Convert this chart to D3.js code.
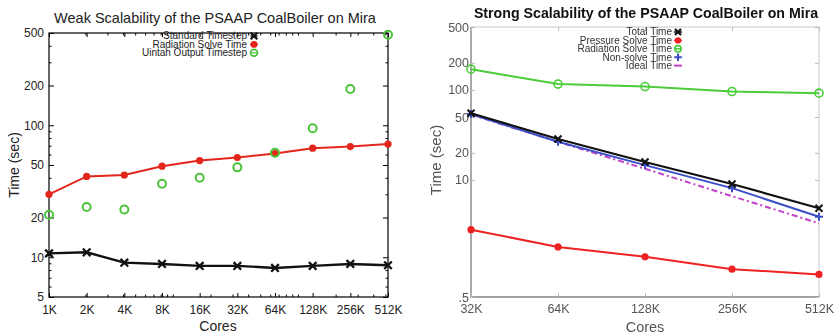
<!DOCTYPE html>
<html>
<head>
<meta charset="utf-8">
<script src="https://cdn.jsdelivr.net/npm/d3@7"></script>
<style>
  html, body { margin: 0; padding: 0; background: #fff; }
  svg { display: block; font-family: "Liberation Sans", Arial, sans-serif; }
</style>
</head>
<body>
<svg id="chart" width="837" height="336"></svg>
<script>
// weak scaling (left), cores in units of 1024
const weakCores = [1, 2, 4, 8, 16, 32, 64, 128, 256, 512]
const weakLabels = ['1K', '2K', '4K', '8K', '16K', '32K', '64K', '128K', '256K', '512K']
const standardTimestep = [10.7, 10.9, 9.1, 8.9, 8.6, 8.6, 8.3, 8.6, 8.9, 8.7]
const radiationWeak = [30, 41, 42, 49, 54, 57, 61, 67, 69, 72]
const uintahOutput = [21, 24, 23, 36, 40, 48, 62, 95, 188, 485]
const weakYTicks = [5, 10, 20, 50, 100, 200, 500]
const weakYMinor = [6, 7, 8, 9, 30, 40, 60, 70, 80, 90, 300, 400]
// minor x ticks sit at round decimal core counts
const weakXMinor = [2000, 3000, 4000, 5000, 6000, 7000, 8000, 9000,
  10000, 20000, 30000, 40000, 50000, 60000, 70000, 80000, 90000,
  100000, 200000, 300000, 400000, 500000]

// strong scaling (right)
const strongCores = [32, 64, 128, 256, 512]
const strongLabels = ['32K', '64K', '128K', '256K', '512K']
const totalTime = [55, 28.5, 15.8, 9.0, 4.85]
const pressureSolve = [2.8, 1.8, 1.4, 1.02, 0.89]
const radiationStrong = [170, 116, 109, 96, 92]
const nonSolve = [54, 26.5, 14.6, 8.1, 3.9]
const idealTime = [53, 26.5, 13.3, 6.6, 3.3]
const strongYTicks = [0.5, 10, 20, 50, 100, 200, 500]
const strongYLabels = ['.5', '10', '20', '50', '100', '200', '500']

const svg = d3.select('#chart')

const crossPath = s => `M${-s},${-s}L${s},${s}M${-s},${s}L${s},${-s}`
const plusPath = s => `M${-s},0L${s},0M0,${-s}L0,${s}`

function drawWeak() {
  const m = {left: 49, right: 388, top: 33, bottom: 297}
  const x = d3.scaleLog().base(2).domain([1, 512]).range([m.left, m.right])
  const y = d3.scaleLog().domain([5, 500]).range([m.bottom, m.top])
  const g = svg.append('g')

  g.append('text')
    .attr('x', 215).attr('y', 23)
    .attr('text-anchor', 'middle')
    .attr('font-size', 14.5).attr('fill', '#222')
    .text('Weak Scalability of the PSAAP CoalBoiler on Mira')

  // frame
  g.append('rect')
    .attr('x', m.left).attr('y', m.top)
    .attr('width', m.right - m.left).attr('height', m.bottom - m.top)
    .attr('fill', 'none').attr('stroke', '#000').attr('stroke-width', 1.2)

  const minorX = weakXMinor.map(v => v / 1024)

  g.append('g')
    .attr('transform', `translate(0,${m.bottom})`)
    .call(d3.axisBottom(x).tickValues(weakCores)
      .tickFormat((d, i) => weakLabels[i]).tickSize(-4).tickPadding(8))
    .call(a => a.select('.domain').remove())
  g.append('g')
    .attr('transform', `translate(0,${m.bottom})`)
    .call(d3.axisBottom(x).tickValues(minorX).tickFormat('').tickSize(-2.5))
    .call(a => a.select('.domain').remove())

  g.append('g')
    .attr('transform', `translate(0,${m.top})`)
    .call(d3.axisTop(x).tickValues(weakCores).tickFormat('').tickSize(-4))
    .call(a => a.select('.domain').remove())
  g.append('g')
    .attr('transform', `translate(0,${m.top})`)
    .call(d3.axisTop(x).tickValues(minorX).tickFormat('').tickSize(-2.5))
    .call(a => a.select('.domain').remove())

  g.append('g')
    .attr('transform', `translate(${m.left},0)`)
    .call(d3.axisLeft(y).tickValues(weakYTicks).tickFormat(d3.format('d'))
      .tickSize(-5).tickPadding(5))
    .call(a => a.select('.domain').remove())
  g.append('g')
    .attr('transform', `translate(${m.left},0)`)
    .call(d3.axisLeft(y).tickValues(weakYMinor).tickFormat('').tickSize(-2.5))
    .call(a => a.select('.domain').remove())
  g.append('g')
    .attr('transform', `translate(${m.right},0)`)
    .call(d3.axisRight(y).tickValues(weakYTicks).tickFormat('').tickSize(-5))
    .call(a => a.select('.domain').remove())
  g.append('g')
    .attr('transform', `translate(${m.right},0)`)
    .call(d3.axisRight(y).tickValues(weakYMinor).tickFormat('').tickSize(-2.5))
    .call(a => a.select('.domain').remove())

  g.selectAll('.tick text').attr('font-size', 12).attr('fill', '#222')
    .attr('font-family', '"Liberation Sans", Arial, sans-serif')
  g.selectAll('.tick line').attr('stroke', '#000')

  g.append('text')
    .attr('x', 218).attr('y', 331)
    .attr('text-anchor', 'middle').attr('font-size', 14).attr('fill', '#222')
    .text('Cores')
  g.append('text')
    .attr('transform', 'translate(19,165) rotate(-90)')
    .attr('text-anchor', 'middle').attr('font-size', 14).attr('fill', '#222')
    .text('Time (sec)')

  const line = d3.line().x((d, i) => x(weakCores[i])).y(d => y(d))

  g.append('path').datum(radiationWeak)
    .attr('d', line).attr('fill', 'none')
    .attr('stroke', '#e3261b').attr('stroke-width', 2)
  g.selectAll('.rad').data(radiationWeak).join('circle')
    .attr('cx', (d, i) => x(weakCores[i])).attr('cy', d => y(d))
    .attr('r', 3.6).attr('fill', '#e3261b')

  g.append('path').datum(standardTimestep)
    .attr('d', line).attr('fill', 'none')
    .attr('stroke', '#111').attr('stroke-width', 2.4)
  g.selectAll('.std').data(standardTimestep).join('path')
    .attr('transform', (d, i) => `translate(${x(weakCores[i])},${y(d)})`)
    .attr('d', crossPath(3.8)).attr('stroke', '#111').attr('stroke-width', 2.3)

  g.selectAll('.uout').data(uintahOutput).join('circle')
    .attr('cx', (d, i) => x(weakCores[i])).attr('cy', d => y(d))
    .attr('r', 4).attr('fill', 'none')
    .attr('stroke', '#4cc23a').attr('stroke-width', 2)

  // legend
  const leg = [
    {name: 'Standard Timestep', type: 'cross', color: '#111'},
    {name: 'Radiation Solve Time', type: 'dot', color: '#e3261b'},
    {name: 'Uintah Output Timestep', type: 'ring', color: '#4cc23a'}
  ]
  const lg = g.append('g')
  leg.forEach((l, i) => {
    const ly = 36 + i * 8.4
    lg.append('text').attr('x', 247).attr('y', ly + 3.3)
      .attr('text-anchor', 'end').attr('font-size', 10).attr('fill', '#222')
      .text(l.name)
    const s = lg.append('g').attr('transform', `translate(254,${ly})`)
    if (l.type === 'cross') {
      s.append('path').attr('d', crossPath(3.3)).attr('stroke', l.color).attr('stroke-width', 2.2)
      s.append('path').attr('d', 'M-3.5,0L3.5,0').attr('stroke', l.color).attr('stroke-width', 1.5)
    } else if (l.type === 'dot') {
      s.append('circle').attr('r', 3.4).attr('fill', l.color)
      s.append('path').attr('d', 'M-4,0L4,0').attr('stroke', l.color).attr('stroke-width', 1.5)
    } else {
      s.append('circle').attr('r', 3.4).attr('fill', 'none').attr('stroke', l.color).attr('stroke-width', 1.8)
      s.append('path').attr('d', 'M-2.5,0L2.5,0').attr('stroke', l.color).attr('stroke-width', 1.2)
    }
  })
}

function drawStrong() {
  const m = {left: 471, right: 819, top: 27, bottom: 297}
  const x = d3.scaleLog().base(2).domain([32, 512]).range([m.left, m.right])
  const y = d3.scaleLog().domain([0.5, 500]).range([m.bottom, m.top])
  const g = svg.append('g').style('filter', 'blur(0.35px)')
  const axisGray = '#8a8a8a'
  const textGray = '#555'

  g.append('text')
    .attr('x', 646).attr('y', 18)
    .attr('text-anchor', 'middle')
    .attr('font-size', 14.2).attr('font-weight', 'bold').attr('fill', '#111')
    .text('Strong Scalability of the PSAAP CoalBoiler on Mira')

  g.append('rect')
    .attr('x', m.left).attr('y', m.top)
    .attr('width', m.right - m.left).attr('height', m.bottom - m.top)
    .attr('fill', 'none').attr('stroke', '#c8c8c8').attr('stroke-width', 1)
  g.append('path')
    .attr('d', `M${m.left},${m.top}V${m.bottom}H${m.right}`)
    .attr('fill', 'none').attr('stroke', axisGray).attr('stroke-width', 1.3)

  g.append('g')
    .attr('transform', `translate(0,${m.bottom})`)
    .call(d3.axisBottom(x).tickValues(strongCores)
      .tickFormat((d, i) => strongLabels[i]).tickSize(-4).tickPadding(7))
    .call(a => a.select('.domain').remove())
  g.append('g')
    .attr('transform', `translate(0,${m.top})`)
    .call(d3.axisTop(x).tickValues(strongCores).tickFormat('').tickSize(-4))
    .call(a => a.select('.domain').remove())
  g.append('g')
    .attr('transform', `translate(${m.left},0)`)
    .call(d3.axisLeft(y).tickValues(strongYTicks)
      .tickFormat((d, i) => strongYLabels[i]).tickSize(-4).tickPadding(2))
    .call(a => a.select('.domain').remove())
  g.append('g')
    .attr('transform', `translate(${m.right},0)`)
    .call(d3.axisRight(y).tickValues(strongYTicks).tickFormat('').tickSize(-4))
    .call(a => a.select('.domain').remove())

  g.selectAll('.tick text').attr('font-size', 12.5).attr('fill', textGray)
    .attr('font-family', '"Liberation Sans", Arial, sans-serif')
  g.selectAll('.tick line').attr('stroke', '#bbb')

  g.append('text')
    .attr('x', 645).attr('y', 332)
    .attr('text-anchor', 'middle').attr('font-size', 14.5).attr('fill', textGray)
    .text('Cores')
  g.append('text')
    .attr('transform', 'translate(441,160) rotate(-90)')
    .attr('text-anchor', 'middle').attr('font-size', 15).attr('fill', textGray)
    .text('Time (sec)')

  const line = d3.line().x((d, i) => x(strongCores[i])).y(d => y(d))
  const addLine = (data, color, w, dash) => g.append('path').datum(data)
    .attr('d', line).attr('fill', 'none')
    .attr('stroke', color).attr('stroke-width', w)
    .attr('stroke-dasharray', dash || null)

  addLine(radiationStrong, '#4ccc3a', 2)
  g.selectAll('.rs').data(radiationStrong).join('circle')
    .attr('cx', (d, i) => x(strongCores[i])).attr('cy', d => y(d))
    .attr('r', 4).attr('fill', 'none').attr('stroke', '#4ccc3a').attr('stroke-width', 1.6)

  addLine(pressureSolve, '#ee2222', 2)
  g.selectAll('.ps').data(pressureSolve).join('circle')
    .attr('cx', (d, i) => x(strongCores[i])).attr('cy', d => y(d))
    .attr('r', 3.6).attr('fill', '#ee2222')

  addLine(idealTime, '#c040c8', 2, '6,3,2,3')
  addLine(nonSolve, '#3a4fc8', 2)
  g.selectAll('.ns').data(nonSolve).join('path')
    .attr('transform', (d, i) => `translate(${x(strongCores[i])},${y(d)})`)
    .attr('d', plusPath(4)).attr('stroke', '#3a4fc8').attr('stroke-width', 2)

  addLine(totalTime, '#111', 2.2)
  g.selectAll('.tt').data(totalTime).join('path')
    .attr('transform', (d, i) => `translate(${x(strongCores[i])},${y(d)})`)
    .attr('d', crossPath(3.5)).attr('stroke', '#111').attr('stroke-width', 2)

  const leg = [
    {name: 'Total Time', type: 'cross', color: '#111'},
    {name: 'Pressure Solve Time', type: 'dot', color: '#ee2222'},
    {name: 'Radiation Solve Time', type: 'ring', color: '#4ccc3a'},
    {name: 'Non-solve Time', type: 'plus', color: '#3a4fc8'},
    {name: 'Ideal Time', type: 'dash', color: '#c040c8'}
  ]
  leg.forEach((l, i) => {
    const ly = 32 + i * 8.4
    g.append('text').attr('x', 672).attr('y', ly + 3.3)
      .attr('text-anchor', 'end').attr('font-size', 10).attr('fill', '#333')
      .text(l.name)
    const s = g.append('g').attr('transform', `translate(678,${ly})`)
    if (l.type === 'cross') {
      s.append('path').attr('d', crossPath(3)).attr('stroke', l.color).attr('stroke-width', 2.2)
      s.append('path').attr('d', 'M-4,0L4,0').attr('stroke', l.color).attr('stroke-width', 1.5)
    } else if (l.type === 'dot') {
      s.append('circle').attr('r', 3.2).attr('fill', l.color)
      s.append('path').attr('d', 'M-4,0L4,0').attr('stroke', l.color).attr('stroke-width', 1.5)
    } else if (l.type === 'ring') {
      s.append('circle').attr('r', 3.2).attr('fill', 'none').attr('stroke', l.color).attr('stroke-width', 1.6)
      s.append('path').attr('d', 'M-4,0L4,0').attr('stroke', l.color).attr('stroke-width', 1.5)
    } else if (l.type === 'plus') {
      s.append('path').attr('d', plusPath(3.8)).attr('stroke', l.color).attr('stroke-width', 2)
    } else {
      s.append('path').attr('d', 'M-4,0L4,0').attr('stroke', l.color).attr('stroke-width', 2)
    }
  })
}

drawWeak()
drawStrong()
</script>
</body>
</html>
